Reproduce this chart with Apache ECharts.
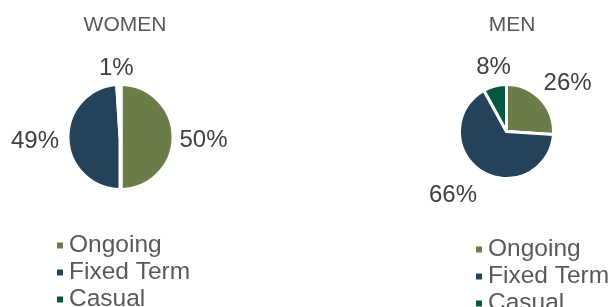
<!DOCTYPE html>
<html><head><meta charset="utf-8">
<script src="https://cdn.jsdelivr.net/npm/echarts@6/dist/echarts.min.js"></script>
<style>html,body{margin:0;padding:0;background:#fff}#c{width:611px;height:307px}</style>
</head><body><div id="c"></div>
<script>
const categories = ['Ongoing', 'Fixed Term', 'Casual'];
const womenValues = [50, 49, 1];
const menValues = [26, 66, 8];
const titles = ['WOMEN', 'MEN'];
const colors = ['#6A7C48', '#24425A', '#075840'];

const FONT = '"Liberation Sans", Arial, sans-serif';
// label nudges (style only)
const labelNudge = [
  [[-7, 3], [4.5, 2], [20, -7.5]],
  [[-8, -10], [5, 17], [23, -10.5]]
];
function mk(vals){ return categories.map((n,i)=>({name:n, value:vals[i], itemStyle:{color:colors[i]}})); }

const chart = echarts.init(document.getElementById('c'), null, {renderer:'canvas'});
const labelStyle = {show:true, position:'outside', overflow:'none', formatter: p => p.value + '%', fontSize:24, color:'#404040', fontFamily:FONT};
const nudge = p => { const d = labelNudge[p.seriesIndex][p.dataIndex]; return {dx:d[0], dy:d[1]}; };
const legendBase = {data:categories, orient:'vertical', icon:'rect', itemWidth:8, itemHeight:8, itemGap:2, height:120, selectedMode:false,
     textStyle:{fontSize:24.5, color:'#595959', fontFamily:FONT}};
chart.setOption({
  animation:false,
  title:[
    {text:titles[0], left:120, top:10, textAlign:'center', textStyle:{fontSize:21, fontWeight:'normal', color:'#595959', fontFamily:FONT}},
    {text:titles[1], left:507, top:10, textAlign:'center', textStyle:{fontSize:21, fontWeight:'normal', color:'#595959', fontFamily:FONT}}
  ],
  legend:[
    Object.assign({}, legendBase, {left:50, top:228}),
    Object.assign({}, legendBase, {left:469, top:232})
  ],
  series:[
    {type:'pie', center:[120.5,137], radius:53, startAngle:90, clockwise:true, silent:true,
     itemStyle:{borderColor:'#fff', borderWidth:4},
     label:labelStyle, labelLine:{show:false, length:8, length2:0}, labelLayout:nudge,
     data:mk(womenValues)},
    {type:'pie', center:[506.5,131.5], radius:47, startAngle:90, clockwise:true, silent:true,
     itemStyle:{borderColor:'#fff', borderWidth:3},
     label:labelStyle, labelLine:{show:false, length:8, length2:0}, labelLayout:nudge,
     data:mk(menValues)}
  ]
});
</script></body></html>
